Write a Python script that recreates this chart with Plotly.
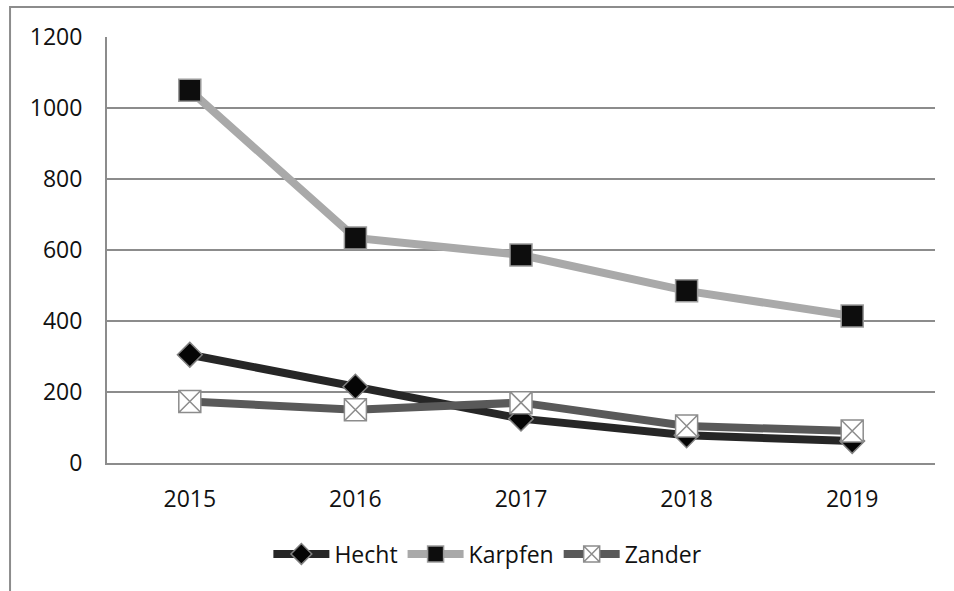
import plotly.graph_objects as go

years = ["2015", "2016", "2017", "2018", "2019"]
hecht = [305, 215, 125, 78, 62]
karpfen = [1050, 634, 586, 485, 414]
zander = [173, 150, 170, 104, 90]

FONT = "Open Sans"
GRID = "#8c8c8c"

fig = go.Figure()
fig.add_trace(
    go.Scatter(
        x=years,
        y=hecht,
        name="Hecht",
        mode="lines+markers",
        line=dict(color="#262626", width=8),
        marker=dict(
            symbol="diamond",
            size=19,
            color="#050505",
            line=dict(color="#7f7f7f", width=1.5),
        ),
    )
)
fig.add_trace(
    go.Scatter(
        x=years,
        y=karpfen,
        name="Karpfen",
        mode="lines+markers",
        line=dict(color="#a9a9a9", width=8),
        marker=dict(
            symbol="square",
            size=22,
            color="#0d0d0d",
            line=dict(color="#9a9a9a", width=1.5),
        ),
    )
)
fig.add_trace(
    go.Scatter(
        x=years,
        y=zander,
        name="Zander",
        mode="lines+markers",
        line=dict(color="#595959", width=8),
        marker=dict(
            symbol="square-x",
            size=22,
            color="white",
            line=dict(color="#8c8c8c", width=1.5),
        ),
    )
)

# outer chart frame (cut off by the picture edges)
fig.add_shape(
    type="rect",
    xref="paper",
    yref="paper",
    x0=-0.1171,
    x1=1.2,
    y0=-0.5,
    y1=1.0704,
    line=dict(color=GRID, width=2),
    layer="below",
)

fig.update_layout(
    width=954,
    height=591,
    paper_bgcolor="white",
    plot_bgcolor="white",
    margin=dict(l=107, r=19, t=37, b=128),
    font=dict(family=FONT, size=23, color="#111111"),
    showlegend=True,
    legend=dict(
        orientation="h",
        x=0.46,
        xanchor="center",
        y=-0.2136,
        yanchor="middle",
        font=dict(size=23),
        itemwidth=56,
    ),
)
fig.update_xaxes(
    type="category",
    range=[-0.5, 4.5],
    showgrid=False,
    showline=True,
    linecolor=GRID,
    linewidth=2,
    ticks="",
    ticklabelstandoff=14,
)
fig.update_yaxes(
    range=[0, 1200],
    dtick=200,
    showgrid=True,
    gridcolor=GRID,
    gridwidth=2,
    zeroline=False,
    showline=True,
    linecolor=GRID,
    linewidth=2,
    ticks="",
    ticklabelstandoff=18,
)

# drop the default 8px body margin so the figure sits at the page corner
fig.write_html(
    "out.html",
    config={"displayModeBar": False},
    post_script="document.body.style.margin = '0';",
)
